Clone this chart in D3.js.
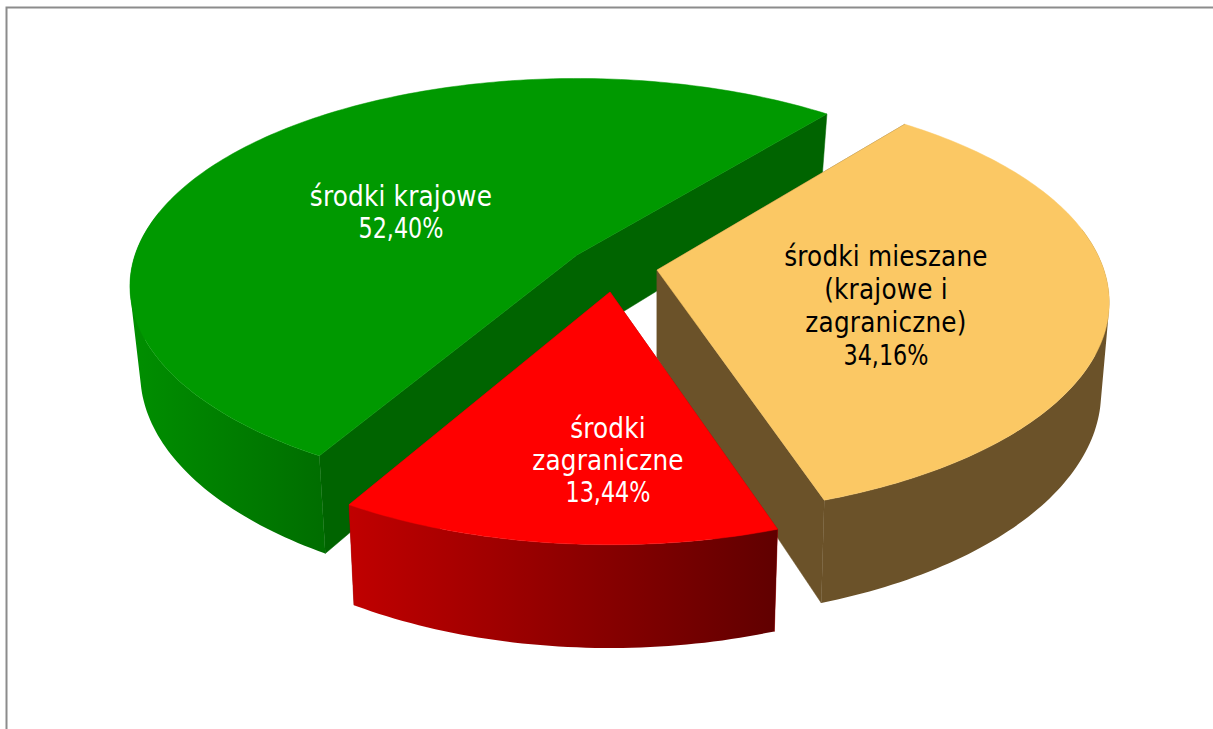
<!DOCTYPE html>
<html><head><meta charset="utf-8">
<style>html,body{margin:0;padding:0;background:#fff;overflow:hidden}svg{display:block}</style>
<script src="https://cdn.jsdelivr.net/npm/d3@7/dist/d3.min.js"></script>
</head><body>
<svg id="c" width="1213" height="729"></svg>
<script>
const categories = ["środki krajowe", "środki mieszane (krajowe i zagraniczne)", "środki zagraniczne"];
const shares = [52.40, 34.16, 13.44];
const shareLabels = ["52,40%", "34,16%", "13,44%"];
const labelLines = [["środki krajowe"], ["środki mieszane", "(krajowe i", "zagraniczne)"], ["środki", "zagraniczne"]];

// Layout and style, per slice
const apex = [[577,255],[657,270],[610,292]];
const radiusX = [442,447,442];
const radiusY = [203,208,208];
const persp = [0.15,0.152,0.177];
const depth = [85,88,85];
const shrink = [0.977,0.982,0.981];
const turn = [0.5,-0.3,0];
const labelAt = [[401,196],[886,256],[608,428]];
const labelStep = [32,33,32];
const labelColor = ["#fff","#000","#fff"];
const topColor = ["#009900","#fbc864","#ff0000"];
const sideColor = ["#006400","#6b5229","#a00000"];
const wallStops = [[[130,"#008f00"],[320,"#006e00"]],[[650,"#6b5229"],[1110,"#6b5229"]],[[350,"#c00000"],[778,"#600000"]]];
const shareWidth = 85;

const rad = d3.scaleLinear().domain([0,360]).range([0,2*Math.PI]);
const pie = d3.pie().sort(null).startAngle(rad(210)).endAngle(rad(570));
const arcs = pie(shares);

function topPt(i,a,r=1){
  const u=r*Math.sin(a), v=-r*Math.cos(a), k=1-persp[i]*v;
  return [apex[i][0]+radiusX[i]*u/k, apex[i][1]+radiusY[i]*v/k, v];
}
function botPt(i,a,r=1){
  const [x,y,v]=topPt(i,a,r);
  return [apex[i][0]+(x-apex[i][0])*shrink[i], y+depth[i]/(1-persp[i]*v)];
}
const line=d3.line();
const xy=p=>[p[0],p[1]];
const svg=d3.select("#c");
const defs=svg.append("defs");
wallStops.forEach((s,i)=>{
  const lg=defs.append("linearGradient").attr("id","wall"+i).attr("gradientUnits","userSpaceOnUse")
    .attr("x1",s[0][0]).attr("x2",s[1][0]).attr("y1",0).attr("y2",0);
  lg.append("stop").attr("offset",0).attr("stop-color",s[0][1]);
  lg.append("stop").attr("offset",1).attr("stop-color",s[1][1]);
});
svg.append("path").attr("d","M6.5,729V7.5H1213").attr("fill","none").attr("stroke","#8c8c8c").attr("stroke-width",2);

arcs.forEach((d,i)=>{
  const g=svg.append("g");
  const A=d.startAngle+rad(turn[i]),B=d.endAngle+rad(turn[i]);
  const steps=d3.range(A,B,rad(1)).concat([B]);
  // radial walls
  [A,B].forEach(a=>{
    const pts=[topPt(i,0,0),topPt(i,a),botPt(i,a),botPt(i,0,0)].map(xy);
    g.append("path").attr("d",line(pts)+"Z").attr("fill",sideColor[i]).attr("stroke",sideColor[i]).attr("stroke-width",0.5);
  });
  // outer wall: one path of narrow strips, all wound the same way, so its silhouette follows both rims
  const strips=[];
  steps.slice(0,-1).forEach((a,j)=>{
    const b=steps[j+1];
    if(Math.cos(a)>0.2&&Math.cos(b)>0.2) return;
    const quad=[xy(topPt(i,a)),xy(topPt(i,b)),botPt(i,b),botPt(i,a)];
    if(d3.polygonArea(quad)<0) quad.reverse();
    strips.push(line(quad)+"Z");
  });
  g.append("path").attr("d",strips.join("")).attr("fill",`url(#wall${i})`).attr("fill-rule","nonzero");
  // top face
  const pts=[topPt(i,0,0)].concat(steps.map(a=>topPt(i,a))).map(xy);
  g.append("path").attr("d",line(pts)+"Z").attr("fill",topColor[i]).attr("stroke",topColor[i]).attr("stroke-width",0.5);
});
// labels
arcs.forEach((d,i)=>{
  const lines=labelLines[i].concat([shareLabels[i]]);
  svg.append("g").selectAll("text").data(lines).join("text")
    .attr("x",labelAt[i][0]).attr("y",(t,j)=>labelAt[i][1]+j*labelStep[i])
    .attr("dy","0.35em").attr("text-anchor","middle")
    .attr("font-family","'DejaVu Sans Condensed','DejaVu Sans',sans-serif").attr("font-size",27.5)
    .attr("fill",labelColor[i])
    .attr("textLength",t=>t===shareLabels[i]?shareWidth:null)
    .attr("lengthAdjust",t=>t===shareLabels[i]?"spacingAndGlyphs":null)
    .attr("letter-spacing",t=>t===shareLabels[i]?null:0.2)
    .text(t=>t);
});
</script>
</body></html>
